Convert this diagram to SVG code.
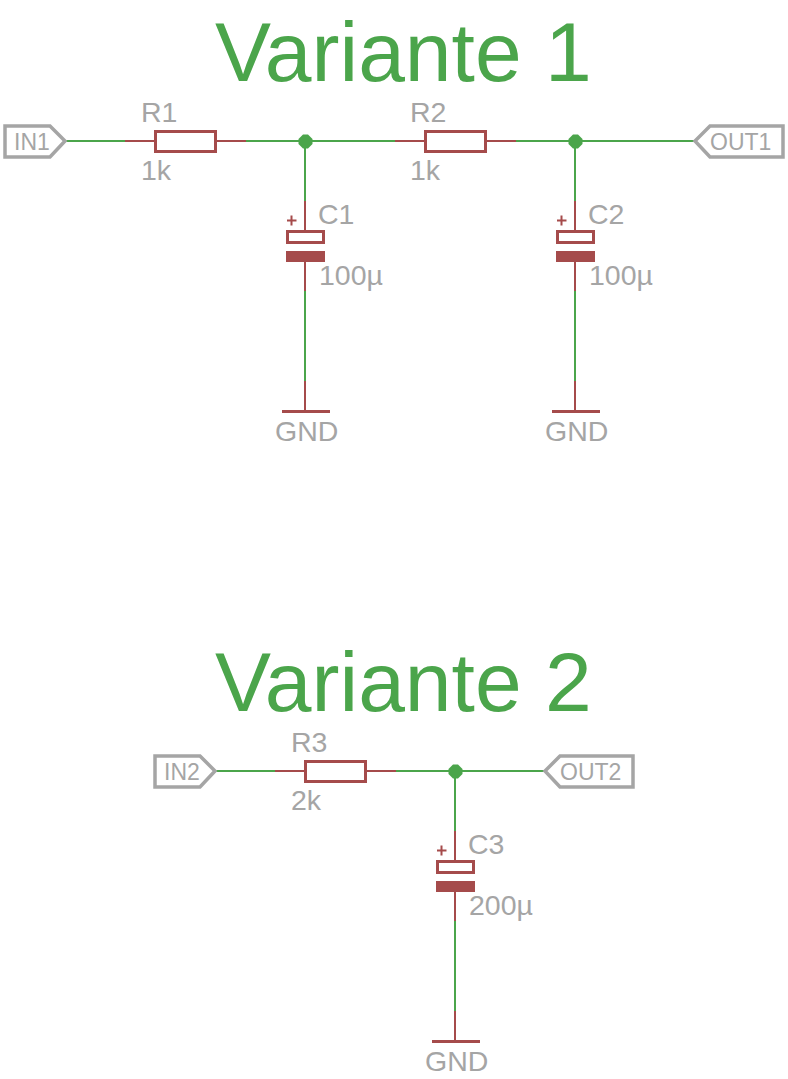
<svg xmlns="http://www.w3.org/2000/svg" width="788" height="1079" viewBox="0 0 788 1079">
<style>
.w{stroke:#4ba54b;stroke-width:2;fill:none}
.r{stroke:#a54b4b;stroke-width:2;fill:none}
.b{stroke:#a54b4b;stroke-width:3;fill:none}
.f{fill:#a54b4b}
.j{fill:#4ba54b}
.p{stroke:#a5a5a5;stroke-width:3.500;fill:none}
text{font-family:"Liberation Sans",Arial,sans-serif;fill:#a5a5a5}
.t{font-size:28.500px}
.s{font-size:23px}
.h{font-size:84px;fill:#4ba54b}
</style>
<defs>
<g id="res"><path class="r" d="M125 141H155M216 141H246"/><rect class="b" x="155.500" y="131.500" width="60" height="20"/></g>
<g id="cap"><path class="r" d="M305 201V231M305 262V291M287 220.500H296.500M291.500 215.500V225.500"/><rect class="b" x="287.500" y="231.500" width="36" height="11"/><rect class="f" x="286" y="251" width="39" height="11"/></g>
<g id="gnd"><path class="r" d="M305 381V410"/><path class="b" d="M282 411.500H330"/></g>
<path id="jun" class="j" d="M303 134.500H308L312.500 139V144L308 148.500H303L298.500 144V139Z"/>
</defs>
<rect width="788" height="1079" fill="#fff"/>
<g id="connectors">
<path class="w" d="M66 141H125M246 141H395M516 141H695M305 141V201M575 141V201M305 291V381M575 291V381"/>
<path class="w" d="M216 771H275M396 771H545M455 771V831M455 921V1011"/>
</g>
<g id="title1"><text class="h" x="215" y="81">Variante 1</text></g>
<g id="title2"><text class="h" x="215" y="711">Variante 2</text></g>
<g id="IN1"><path class="p" d="M5 126H50L65 141L50 157H5Z"/><text class="s" x="14" y="150">IN1</text></g>
<g id="R1"><use href="#res"/><text class="t" x="141" y="122">R1</text><text class="t" x="141" y="180">1k</text></g>
<g id="J1"><use href="#jun"/></g>
<g id="C1"><use href="#cap"/><text class="t" x="318" y="224">C1</text><text class="t" x="319" y="285">100µ</text></g>
<g id="GND1"><use href="#gnd"/><text class="t" x="275" y="441">GND</text></g>
<g id="R2"><use href="#res" x="270"/><text class="t" x="410" y="122">R2</text><text class="t" x="410" y="180">1k</text></g>
<g id="J2"><use href="#jun" x="270"/></g>
<g id="C2"><use href="#cap" x="270"/><text class="t" x="588" y="224">C2</text><text class="t" x="589" y="285">100µ</text></g>
<g id="GND2"><use href="#gnd" x="270"/><text class="t" x="545" y="441">GND</text></g>
<g id="OUT1"><path class="p" d="M783 126H710L695 141L710 157H783Z"/><text class="s" x="710" y="150">OUT1</text></g>
<g id="IN2"><path class="p" d="M155 756H200L215 771L200 787H155Z"/><text class="s" x="164" y="780">IN2</text></g>
<g id="R3"><use href="#res" x="150" y="630"/><text class="t" x="291" y="752">R3</text><text class="t" x="291" y="810">2k</text></g>
<g id="J3"><use href="#jun" x="150" y="630"/></g>
<g id="C3"><use href="#cap" x="150" y="630"/><text class="t" x="468" y="854">C3</text><text class="t" x="469" y="915">200µ</text></g>
<g id="GND3"><use href="#gnd" x="150" y="630"/><text class="t" x="425" y="1071">GND</text></g>
<g id="OUT2"><path class="p" d="M633 756H560L545 771L560 787H633Z"/><text class="s" x="560" y="780">OUT2</text></g>
</svg>
